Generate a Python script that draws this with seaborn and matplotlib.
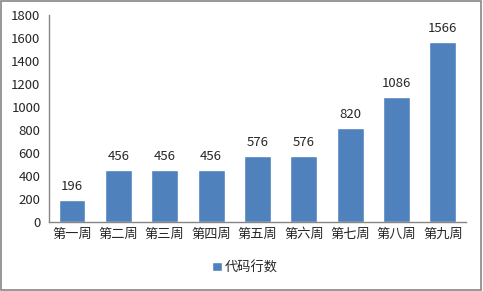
import matplotlib
matplotlib.use("Agg")
import matplotlib.pyplot as plt
import seaborn as sns
import pandas as pd
from matplotlib.patches import Rectangle

weeks = ["第一周", "第二周", "第三周", "第四周", "第五周", "第六周", "第七周", "第八周", "第九周"]
lines = [196, 456, 456, 456, 576, 576, 820, 1086, 1566]
series_name = "代码行数"
yticks = [0, 200, 400, 600, 800, 1000, 1200, 1400, 1600, 1800]

sns.set_style("white")
plt.rcParams['font.family'] = ['Noto Sans CJK SC', 'DejaVu Sans']

df = pd.DataFrame({"week": weeks, "value": lines, "series": series_name})

fig = plt.figure(figsize=(4.83, 2.91), dpi=100)
ax = fig.add_axes([0.101, 0.237, 0.864, 0.711])
sns.barplot(data=df, x="week", y="value", hue="series", palette=["#4F81BD"],
            width=0.58, ax=ax, saturation=1, legend=True)

fs = 9.5
ax.set_ylim(0, 1800)
ax.set_yticks(yticks)
ax.set_xlim(-0.5, len(weeks) - 0.5)
ax.set_xlabel("")
ax.set_ylabel("")
ax.tick_params(axis='both', length=0, labelsize=fs, pad=4)
ax.tick_params(axis='y', pad=6)
for s in ["top", "right"]:
    ax.spines[s].set_visible(False)
for s in ["left", "bottom"]:
    ax.spines[s].set_color("#868686")
    ax.spines[s].set_linewidth(1)

for c in ax.containers:
    ax.bar_label(c, labels=[str(v) for v in lines], padding=5, fontsize=fs)

leg = ax.legend(loc="center", frameon=False, fontsize=fs, handlelength=0.7,
                handleheight=0.7, handletextpad=0.2)
leg.set_bbox_to_anchor((0.507, 0.08), transform=fig.transFigure)

fig.patches.append(Rectangle((0.002, 0.003), 0.994, 0.992, transform=fig.transFigure,
                             fill=False, edgecolor="#868686", linewidth=1.2))

fig.savefig("out.png", dpi=100)
